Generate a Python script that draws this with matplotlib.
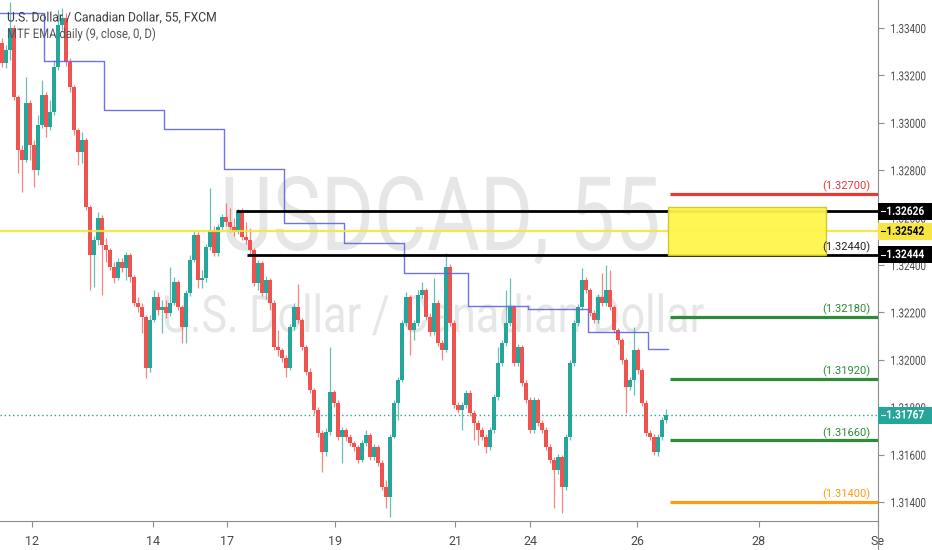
import numpy as np
import matplotlib.pyplot as plt
import matplotlib.transforms as mtransforms
from matplotlib.patches import Rectangle
from matplotlib.lines import Line2D
from matplotlib.patheffects import AbstractPathEffect

plt.rcParams['font.family'] = ['Roboto', 'DejaVu Sans']

# ---- 55 minute USDCAD bars ----
first_open = 1.33337
closes = [
    1.33252, 1.33307, 1.33400, 1.33109, 1.32885, 1.32843, 1.33083, 1.32906, 1.32801, 1.32990,
    1.33117, 1.32982, 1.33045, 1.33235, 1.33412, 1.33442, 1.33256, 1.33151, 1.32969, 1.32877,
    1.32927, 1.32644, 1.32442, 1.32505, 1.32598, 1.32484, 1.32463, 1.32391, 1.32345, 1.32412,
    1.32387, 1.32442, 1.32349, 1.32239, 1.32222, 1.32180, 1.31965, 1.32168, 1.32265, 1.32210,
    1.32222, 1.32197, 1.32239, 1.32328, 1.32222, 1.32138, 1.32282, 1.32421, 1.32526, 1.32336,
    1.32345, 1.32476, 1.32547, 1.32450, 1.32560, 1.32602, 1.32581, 1.32560, 1.32539, 1.32623,
    1.32518, 1.32505, 1.32463, 1.32324, 1.32408, 1.32282, 1.32336, 1.32239, 1.32054, 1.32041,
    1.32007, 1.31965, 1.32138, 1.32222, 1.32168, 1.32054, 1.31948, 1.31872, 1.31788, 1.31691,
    1.31611, 1.31695, 1.31864, 1.31817, 1.31674, 1.31703, 1.31674, 1.31649, 1.31632, 1.31577,
    1.31649, 1.31682, 1.31589, 1.31632, 1.31564, 1.31463, 1.31421, 1.31674, 1.31817, 1.31914,
    1.32155, 1.32265, 1.32125, 1.32155, 1.32273, 1.32294, 1.32180, 1.32117, 1.32239, 1.32071,
    1.32041, 1.32391, 1.32155, 1.31809, 1.31788, 1.31809, 1.31860, 1.31775, 1.31733, 1.31703,
    1.31674, 1.31632, 1.31703, 1.31843, 1.31986, 1.32071, 1.32155, 1.32222, 1.31986, 1.32054,
    1.31902, 1.31830, 1.31703, 1.31830, 1.31733, 1.31703, 1.31632, 1.31577, 1.31535, 1.31589,
    1.31463, 1.31674, 1.31986, 1.32155, 1.32222, 1.32336, 1.32294, 1.32197, 1.32168, 1.32265,
    1.32239, 1.32294, 1.32222, 1.32125, 1.32083, 1.31999, 1.31885, 1.31914, 1.32041, 1.31957,
    1.31817, 1.31691, 1.31674, 1.31611, 1.31674, 1.31746, 1.31767,
]
highs = [
    1.33358, 1.33328, 1.33510, 1.33412, 1.33117, 1.32906, 1.33193, 1.33096, 1.32927, 1.33033,
    1.33180, 1.33130, 1.33096, 1.33265, 1.33476, 1.33484, 1.33463, 1.33273, 1.33159, 1.32978,
    1.32961, 1.32936, 1.32653, 1.32522, 1.32623, 1.32611, 1.32514, 1.32471, 1.32412, 1.32429,
    1.32429, 1.32455, 1.32450, 1.32357, 1.32265, 1.32239, 1.32189, 1.32189, 1.32294, 1.32286,
    1.32252, 1.32252, 1.32391, 1.32349, 1.32336, 1.32231, 1.32294, 1.32442, 1.32547, 1.32539,
    1.32379, 1.32488, 1.32725, 1.32564, 1.32573, 1.32615, 1.32661, 1.32640, 1.32598, 1.32636,
    1.32640, 1.32581, 1.32556, 1.32471, 1.32421, 1.32417, 1.32353, 1.32345, 1.32252, 1.32125,
    1.32049, 1.32020, 1.32151, 1.32239, 1.32320, 1.32176, 1.32062, 1.31965, 1.31881, 1.31800,
    1.31703, 1.31712, 1.32054, 1.31872, 1.31830, 1.31716, 1.31712, 1.31687, 1.31657, 1.31640,
    1.31661, 1.31703, 1.31691, 1.31644, 1.31640, 1.31577, 1.31492, 1.31687, 1.31830, 1.31927,
    1.32168, 1.32286, 1.32273, 1.32168, 1.32294, 1.32328, 1.32303, 1.32197, 1.32345, 1.32252,
    1.32083, 1.32450, 1.32404, 1.32168, 1.31822, 1.31822, 1.31872, 1.31872, 1.31788, 1.31746,
    1.31716, 1.31687, 1.31716, 1.31855, 1.32054, 1.32083, 1.32294, 1.32345, 1.32231, 1.32066,
    1.32062, 1.31914, 1.31843, 1.31843, 1.31838, 1.31746, 1.31716, 1.31644, 1.31589, 1.31602,
    1.31598, 1.31687, 1.31999, 1.32168, 1.32235, 1.32387, 1.32349, 1.32303, 1.32210, 1.32277,
    1.32366, 1.32400, 1.32379, 1.32231, 1.32134, 1.32092, 1.32007, 1.31927, 1.32138, 1.32049,
    1.31965, 1.31830, 1.31703, 1.31687, 1.31687, 1.31758, 1.31792,
]
lows = [
    1.33235, 1.33231, 1.33265, 1.33096, 1.32788, 1.32708, 1.32834, 1.32843, 1.32729, 1.32779,
    1.32978, 1.32940, 1.32969, 1.33033, 1.33223, 1.33391, 1.33239, 1.33130, 1.32948, 1.32822,
    1.32830, 1.32632, 1.32294, 1.32307, 1.32484, 1.32273, 1.32412, 1.32379, 1.32324, 1.32336,
    1.32370, 1.32336, 1.32328, 1.32227, 1.32201, 1.32113, 1.31923, 1.31948, 1.32159, 1.32189,
    1.32113, 1.32176, 1.32184, 1.32231, 1.32210, 1.32071, 1.32071, 1.32269, 1.32412, 1.32303,
    1.32303, 1.32328, 1.32463, 1.32438, 1.32438, 1.32547, 1.32564, 1.32539, 1.32522, 1.32531,
    1.32505, 1.32488, 1.32446, 1.32311, 1.32294, 1.32269, 1.32256, 1.32210, 1.32041, 1.32016,
    1.31990, 1.31927, 1.31957, 1.32125, 1.32155, 1.32041, 1.31935, 1.31860, 1.31771, 1.31674,
    1.31526, 1.31594, 1.31682, 1.31800, 1.31661, 1.31564, 1.31657, 1.31636, 1.31615, 1.31564,
    1.31568, 1.31636, 1.31577, 1.31577, 1.31551, 1.31450, 1.31374, 1.31336, 1.31670, 1.31746,
    1.31906, 1.32142, 1.32020, 1.32083, 1.32142, 1.32260, 1.32168, 1.32100, 1.32104, 1.32058,
    1.31999, 1.32033, 1.32142, 1.31796, 1.31775, 1.31703, 1.31796, 1.31762, 1.31661, 1.31640,
    1.31661, 1.31606, 1.31619, 1.31691, 1.31830, 1.31973, 1.32058, 1.32142, 1.31973, 1.31973,
    1.31889, 1.31817, 1.31691, 1.31691, 1.31720, 1.31691, 1.31619, 1.31564, 1.31374, 1.31518,
    1.31353, 1.31450, 1.31661, 1.31973, 1.32142, 1.32210, 1.32282, 1.32184, 1.32155, 1.32155,
    1.32227, 1.32227, 1.32210, 1.32113, 1.32066, 1.31982, 1.31775, 1.31872, 1.31851, 1.31940,
    1.31805, 1.31678, 1.31661, 1.31598, 1.31594, 1.31661, 1.31733,
]

# MTF EMA (daily, 9) step values and the bar where each day starts
ema_day_start = [0, 11, 26, 41, 56, 71, 86, 101, 117, 132, 147, 162]
ema_values = [1.33463, 1.33261, 1.33054, 1.32974, 1.32805, 1.32577,
              1.32493, 1.32366, 1.32228, 1.32214, 1.32117, 1.32046]

# date axis
date_pos = [7.5, 37.75, 56.25, 83.25, 113.25, 132, 158.75, 189.25, 219]
date_labels = ['12', '14', '17', '19', '21', '24', '26', '28', 'Se']

# drawn levels
zone_top = 1.32626
zone_bottom = 1.32444
zone_mid = 1.32542
zone_box_top = 1.32645
last_price = 1.31767
target_levels = [1.32700, 1.32180, 1.31920, 1.31660, 1.31400]
target_text = ['(1.32700)', '(1.32180)', '(1.31920)', '(1.31660)', '(1.31400)']
target_colors = ['#e53935', '#2e8b37', '#2e8b37', '#2e8b37', '#ff9a16']

price_ticks = [1.314, 1.316, 1.318, 1.320, 1.322, 1.324, 1.326,
               1.328, 1.330, 1.332, 1.334]

UP = '#26a69a'
DOWN = '#ef5350'
TXT = '#4a4a4a'


class Squeeze(AbstractPathEffect):
    """draw the glyphs narrower, keeping the left end of the text in place"""

    def __init__(self, sx):
        super().__init__()
        self.sx = sx

    def draw_path(self, renderer, gc, tpath, affine, rgbFace=None):
        m = affine.get_matrix()
        tx, ty = m[0, 2], m[1, 2]
        narrow = mtransforms.Affine2D().translate(-tx, -ty).scale(self.sx, 1).translate(tx, ty)
        renderer.draw_path(gc, tpath, affine + narrow, rgbFace)


fig = plt.figure(figsize=(9.32, 5.5), dpi=100)
ax = fig.add_axes([0, 29 / 550, 878 / 932, 521 / 550])
ax.set_facecolor('white')

# watermark
ax.text(220 / 878, (521 - 250) / 521, 'USDCAD, 55', transform=ax.transAxes,
        ha='left', va='baseline', fontsize=74, color='#e6e6e6', zorder=0,
        path_effects=[Squeeze(0.79)])
ax.text(162 / 878, (521 - 332) / 521, 'U.S. Dollar / Canadian Dollar',
        transform=ax.transAxes, ha='left', va='baseline', fontsize=37,
        color='#e6e6e6', zorder=0, path_effects=[Squeeze(0.84)])

# candles
n = len(closes)
idx = np.arange(n)
c = np.array(closes)
o = np.array([first_open] + closes[:-1])
hi = np.array(highs)
lo = np.array(lows)
up = c >= o
cols = np.where(up, UP, DOWN)
ax.vlines(idx, lo, hi, colors=cols, lw=0.9, alpha=0.7, zorder=3)
body = np.maximum(np.abs(c - o), 0.00003)
ax.bar(idx, body, bottom=np.minimum(o, c), width=0.8, color=cols,
       linewidth=0, zorder=4)

# daily EMA steps
ex = [s - 0.5 for s in ema_day_start] + [n - 0.5]
ey = ema_values + [ema_values[-1]]
ax.step(ex, ey, where='post', color='#6262e2', lw=1.0, alpha=0.9, zorder=5)

# horizontal levels
ax.axhline(zone_mid, color='#f5e53a', lw=1.6, alpha=0.9, zorder=5)
ax.axhline(last_price, color=UP, lw=1.0, ls=(0, (1, 2)), zorder=2)
ax.hlines(zone_top, 58.5, 219, color='black', lw=2, zorder=6)
ax.hlines(zone_bottom, 61.25, 219, color='black', lw=2, zorder=6)
ax.add_patch(Rectangle((166.5, zone_bottom), 39.5, zone_box_top - zone_bottom,
                       facecolor='#fff54a', edgecolor='#cfc62a', lw=1.0,
                       alpha=0.95, zorder=7))
for lev, t, col in zip(target_levels, target_text, target_colors):
    ax.hlines(lev, 167, 219, color=col, lw=2.3, zorder=6)
    ax.text(217.2, lev + 0.00007, t, ha='right', va='bottom', fontsize=8,
            color=col, zorder=8)
ax.text(217.2, zone_bottom + 0.00007, '(1.32440)', ha='right', va='bottom',
        fontsize=8, color='#222222', zorder=8)

ax.set_xlim(-0.5, 219)
ax.set_ylim(1.31320, 1.33518)

# axes styling
for s in ['top', 'left']:
    ax.spines[s].set_visible(False)
ax.spines['right'].set_color('#8c8c8c')
ax.spines['bottom'].set_color('#8c8c8c')
ax.yaxis.tick_right()
ax.set_yticks(price_ticks)
ax.set_yticklabels(['%.5f' % p for p in price_ticks])
ax.tick_params(axis='y', direction='out', length=4, pad=5, labelsize=9,
               colors='#8c8c8c', labelcolor=TXT)
for lab in ax.get_yticklabels():
    lab.set_path_effects([Squeeze(0.78)])
ax.set_xticks(date_pos)
ax.set_xticklabels(date_labels)
ax.tick_params(axis='x', direction='out', length=4, pad=6, labelsize=9,
               colors='#8c8c8c', labelcolor=TXT)

# price badges on the scale
badge = mtransforms.blended_transform_factory(ax.transAxes, ax.transData)
badges = [(zone_top, 'black', 'white'), (zone_mid, '#f7e542', 'black'),
          (zone_bottom, 'black', 'white'), (last_price, UP, 'white')]
bh = 0.00036
for lev, fc, tc in badges:
    ax.add_patch(Rectangle((1.0, lev - bh), 0.07, 2 * bh, transform=badge,
                           facecolor=fc, edgecolor='none', clip_on=False,
                           zorder=10))
    ax.plot([1.003, 1.008], [lev, lev], transform=badge, color=tc, lw=0.8,
            clip_on=False, zorder=11)
    ax.text(1.0095, lev, '%.5f' % lev, transform=badge, ha='left',
            va='center', fontsize=8.6, fontweight='bold', color=tc,
            clip_on=False, zorder=11, path_effects=[Squeeze(0.85)])

# right scale line continues to the bottom of the picture
fig.add_artist(Line2D([878 / 932, 878 / 932], [0, 29 / 550], color='#8c8c8c',
                      lw=0.8))

# legend lines top-left
fig.text(7 / 932, 1 - 21.5 / 550, 'U.S. Dollar / Canadian Dollar, 55, FXCM',
         ha='left', va='baseline', fontsize=9.5, color='#3c3c3c',
         path_effects=[Squeeze(0.92)])
fig.text(7 / 932, 1 - 38 / 550, 'MTF EMA daily (9, close, 0, D)',
         ha='left', va='baseline', fontsize=9.5, color='#555555',
         path_effects=[Squeeze(0.86)])

fig.savefig('out.png', dpi=100)
